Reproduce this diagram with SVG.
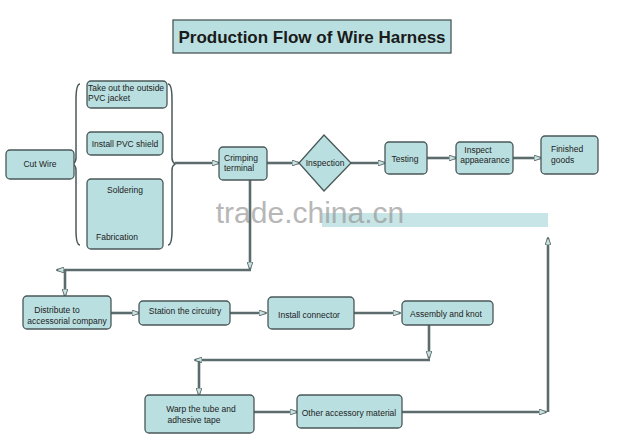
<svg xmlns="http://www.w3.org/2000/svg" width="622" height="442" viewBox="0 0 622 442">
<style>
.n{fill:#b9dfe0;stroke:#4a5858;stroke-width:1.3}
.t{font-family:"Liberation Sans",Arial,sans-serif;font-size:8.5px;fill:#222}
.c{fill:none;stroke:#5c6b6b;stroke-width:2.6}
.ci{fill:none;stroke:#d8e6e6;stroke-width:0.8}
</style>
<defs>
<marker id="a" markerWidth="8" markerHeight="6" refX="7" refY="3" orient="auto" markerUnits="userSpaceOnUse">
<path d="M0,0 L8,3 L0,6 Z" fill="#c9e2e2" stroke="#4a5858" stroke-width="0.8"/>
</marker>
</defs>
<rect width="622" height="442" fill="#fff"/>
<g id="title"><rect x="173" y="20" width="278" height="33" class="n" stroke-width="1.6"/>
<text x="312" y="43" text-anchor="middle" font-family="Liberation Sans,Arial,sans-serif" font-weight="bold" font-size="17" fill="#1a1a1a">Production Flow of Wire Harness</text></g>
<g id="watermark"><rect x="322" y="213" width="226" height="14" fill="#b9dfe0" opacity="0.8"/>
<text x="310" y="223" text-anchor="middle" font-family="Liberation Sans,Arial,sans-serif" font-size="30" fill="#999" opacity="0.7">trade.china.cn</text></g>
<g id="connectors">
<path d="M80,84 Q76,84 76,100 L76,158 Q76,162 73,164 Q76,166 76,170 L76,230 Q76,245 80,245" fill="none" stroke="#4a5858" stroke-width="1.5"/>
<path d="M168,84 Q172,84 172,100 L172,158 Q172,162 175,164 Q172,166 172,170 L172,230 Q172,245 168,245" fill="none" stroke="#4a5858" stroke-width="1.5"/>
<path class="c" marker-end="url(#a)" d="M175,163 H219"/>
<path class="c" marker-end="url(#a)" d="M267,163 H299"/>
<path class="c" marker-end="url(#a)" d="M351,163 H385"/>
<path class="c" marker-end="url(#a)" d="M427,158 H456"/>
<path class="c" marker-end="url(#a)" d="M513,158 H541"/>
<path class="c" marker-end="url(#a)" d="M250,180 V269"/>
<path class="c" marker-end="url(#a)" d="M251,270 H57"/>
<path class="c" marker-end="url(#a)" d="M65,270 V296"/>
<path class="c" marker-end="url(#a)" d="M111,313 H139"/>
<path class="c" marker-end="url(#a)" d="M230,313 H266"/>
<path class="c" marker-end="url(#a)" d="M354,313 H400"/>
<path class="c" marker-end="url(#a)" d="M429,325 V358"/>
<path class="c" marker-end="url(#a)" d="M430,360 H195"/>
<path class="c" marker-end="url(#a)" d="M199,361 V395"/>
<path class="c" marker-end="url(#a)" d="M254,412 H297"/>
<path class="c" marker-end="url(#a)" d="M402,412 H546"/>
<path class="c" marker-end="url(#a)" d="M548,412 V238"/>
</g>
<g id="cutwire"><rect x="6" y="150" width="68" height="29" rx="4" class="n"/><text x="40" y="167" text-anchor="middle" class="t">Cut Wire</text></g>
<g id="takeout"><rect x="87" y="81" width="80" height="27" rx="4" class="n"/><text x="88" y="91" class="t">Take out the outside</text><text x="88" y="101" class="t">PVC jacket</text></g>
<g id="shield"><rect x="87" y="132" width="76" height="23" rx="4" class="n"/><text x="125" y="147" text-anchor="middle" class="t">Install PVC shield</text></g>
<g id="soldering"><rect x="87" y="179" width="76" height="70" rx="4" class="n"/><text x="125" y="193" text-anchor="middle" class="t">Soldering</text><text x="117" y="240" text-anchor="middle" class="t">Fabrication</text></g>
<g id="crimp"><rect x="219" y="147" width="48" height="33" rx="4" class="n"/><text x="224" y="161" class="t">Crimping</text><text x="224" y="171" class="t">terminal</text></g>
<g id="inspection"><path d="M324,135 L351,163 L324,191 L299,163 Z" class="n"/><text x="325" y="166" text-anchor="middle" class="t">Inspection</text></g>
<g id="testing"><rect x="385" y="142" width="42" height="32" rx="4" class="n"/><text x="405" y="162" text-anchor="middle" class="t">Testing</text></g>
<g id="appearance"><rect x="456" y="142" width="57" height="32" rx="4" class="n"/><text x="478" y="153" text-anchor="middle" class="t">Inspect</text><text x="485" y="163" text-anchor="middle" class="t">appaearance</text></g>
<g id="finished"><rect x="541" y="136" width="57" height="38" rx="4" class="n"/><text x="551" y="152" class="t">Finished</text><text x="551" y="163" class="t">goods</text></g>
<g id="distribute"><rect x="23" y="296" width="88" height="33" rx="4" class="n"/><text x="57" y="313" text-anchor="middle" class="t">Distribute to</text><text x="67" y="324" text-anchor="middle" class="t">accessorial company</text></g>
<g id="station"><rect x="139" y="301" width="91" height="24" rx="4" class="n"/><text x="185" y="314" text-anchor="middle" class="t">Station the circuitry</text></g>
<g id="connector"><rect x="268" y="297" width="86" height="32" rx="4" class="n"/><text x="309" y="318" text-anchor="middle" class="t">Install connector</text></g>
<g id="assembly"><rect x="402" y="301" width="91" height="24" rx="4" class="n"/><text x="446" y="317" text-anchor="middle" class="t">Assembly and knot</text></g>
<g id="warp"><rect x="145" y="395" width="109" height="38" rx="4" class="n"/><text x="201" y="412" text-anchor="middle" class="t">Warp the tube and</text><text x="194" y="423" text-anchor="middle" class="t">adhesive tape</text></g>
<g id="other"><rect x="297" y="395" width="105" height="33" rx="4" class="n"/><text x="349" y="416" text-anchor="middle" class="t">Other accessory material</text></g>
</svg>
